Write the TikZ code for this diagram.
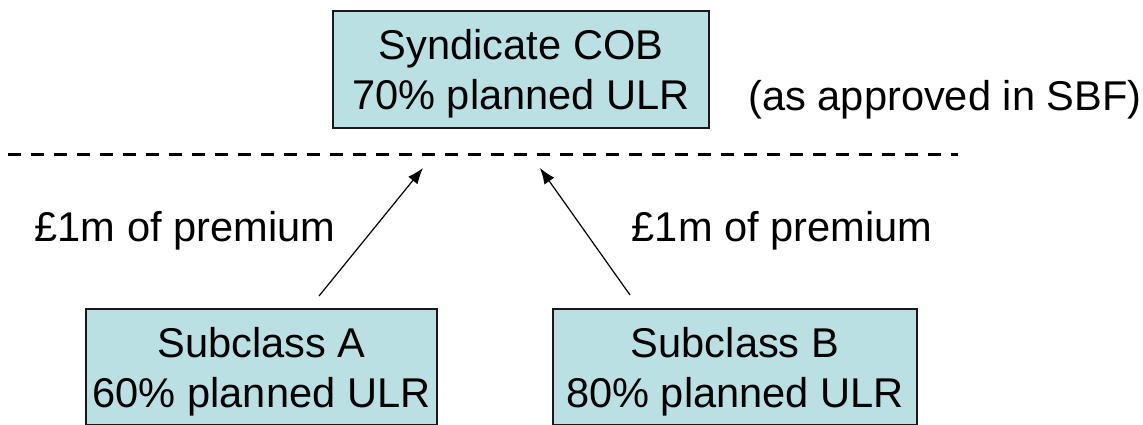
\documentclass[tikz,border=0pt]{standalone}
\usepackage{fontspec}
\setmainfont{Liberation Sans}
\usetikzlibrary{arrows.meta}
\definecolor{boxfill}{HTML}{BBE0E3}

\begin{document}
\begin{tikzpicture}[x=0.5pt, y=0.5pt,
		cob/.style={draw=black!90, line width=1pt, fill=boxfill, inner sep=0pt, align=center, text depth=0pt, minimum height=58pt, font=\fontsize{20.8}{25}\selectfont},
		lbl/.style={inner sep=0pt, anchor=base, font=\fontsize{20.8}{25}\selectfont},
		flow/.style={line width=0.6pt, -{Latex[length=8pt, width=6pt]}}]
			%%%%% START %%%%%
			
			\clip (0, 0) rectangle (1143, 424);
			
			\node[cob, minimum width=188pt] (syn) at (521, 354.5) {Syndicate COB\\70\% planned ULR};
			\node[lbl] (sbf) at (945, 314) {(as approved in SBF)};
			
			\draw[line width=1.5pt, dash pattern=on 6.5pt off 5pt] (8, 270) -- (958, 270);
			
			\node[cob, minimum width=175.5pt] (subA) at (261.5, 57) {Subclass A\\60\% planned ULR};
			\node[cob, minimum width=182pt] (subB) at (735, 57) {Subclass B\\80\% planned ULR};
			
			\node[lbl] (premA) at (185, 183) {£1m of premium};
			\node[lbl] (premB) at (782, 183) {£1m of premium};
			
			\coordinate (tipA) at (423, 256);
			\coordinate (tipB) at (540, 256);
			\draw[flow] ([shift={(57.5, 12)}]subA.north) -- (tipA);
			\draw[flow] ([shift={(-105, 13)}]subB.north) -- (tipB);
			
			%%%%% END %%%%%
		\end{tikzpicture}
\end{document}
